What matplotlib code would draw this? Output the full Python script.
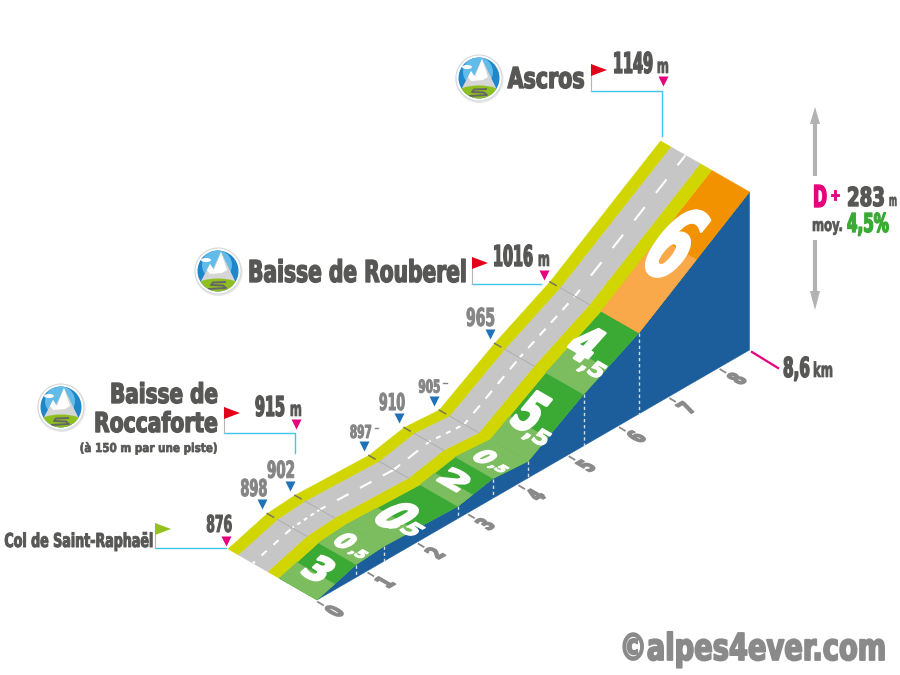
import numpy as np
import matplotlib
matplotlib.use('Agg')
import matplotlib.pyplot as plt
from matplotlib.patches import Circle, Ellipse, Polygon
from matplotlib.patheffects import AbstractPathEffect
from matplotlib.transforms import Affine2D

# Profile data
stations_km = [0, 0.78, 1.33, 2.8, 3.5, 4.2, 5.3, 6.4, 8.6]
altitudes_m = [876, 898, 902, 897, 910, 905, 965, 1016, 1149]
grade_big = ['3', '0', '0', '2', '0', '5', '4', '6']
grade_small = ['', ',5', ',5', '', ',5', ',5', ',5', '']
km_ticks = [0, 1, 2, 3, 4, 5, 6, 7, 8]
spot_km = [0.78, 1.33, 2.8, 3.5, 4.2, 5.3]
spot_alt = [898, 902, 897, 910, 905, 965]

# Styles
light_part = [0.45, 1.0, 0.42, 0.42, 1.0, 0.35, 0.42, 0.52]
dark_col = ['#3aaa35'] * 7 + ['#f39200']
light_col = ['#7cbd5f'] * 7 + ['#f9a94a']
dash_px = [(7, 9), (4, 4), (13, 13), (13, 10), (5, 6), (10, 9), (9, 8), (17, 18)]
# where the gradient numbers sit on the strip: km, depth, width, height
big_place = [(0.39, 0.22, 24, 27), (1.03, 0.28, 16, 19), (1.94, 0.24, 26, 38), (3.13, 0.24, 30, 21),
             (3.785, 0.27, 16, 19), (4.71, 0.29, 25, 42), (5.86, 0.32, 26, 38), (7.48, 0.266, 38, 78)]
small_place = [None, (0.98, 0.09, 15, 10), (1.9, 0.06, 26, 18), None,
               (3.76, 0.085, 15, 10), (4.53, 0.088, 25, 16), (5.66, 0.105, 25, 16), None]
spot_w = [27, 28, 22, 26, 22, 29]
spot_cap = [17, 17, 13, 17, 13, 18]
spot_dx = [-8.5, -9, -3, -7, -5, -9]

BLUE = '#1b5e9b'
YELLOW = '#d2d600'
ROAD = '#c6c6c6'
TEXT = '#575756'
SPOT = '#858585'
PINK = '#e6007e'
CYAN = '#3fc6ef'
GREEN = '#3aaa35'


# Path effect that warps a text about its anchor (used for the heavy tall lettering)
class Warp(AbstractPathEffect):
    def __init__(self, anchor, matrix, stroke, color):
        super().__init__()
        self.anchor = anchor
        self.matrix = matrix
        self.stroke = stroke
        self.color = color

    def draw_path(self, renderer, gc, tpath, affine, rgbFace=None):
        ax_, ay_ = self.anchor
        warp = Affine2D().translate(-ax_, -ay_) + Affine2D(self.matrix) + Affine2D().translate(ax_, ay_)
        new = affine + warp
        gc0 = renderer.new_gc()
        gc0.copy_properties(gc)
        gc0.set_linewidth(self.stroke)
        gc0.set_foreground(self.color)
        renderer.draw_path(gc0, tpath, new, rgbFace)
        gc0.restore()


# Function to project km / altitude / depth on the picture
def proj(km, alt, d=0.0):
    x = 317 + 50.3 * km - 89 * d
    y = 600 - 29.07 * km - 0.579 * (alt - 876) - 51 * d
    return x, y


def alt_at(km):
    return np.interp(km, stations_km, altitudes_m)


def band(ax, km0, km1, d0, d1, color, z=2):
    pts = [proj(km0, alt_at(km0), d0), proj(km1, alt_at(km1), d0),
           proj(km1, alt_at(km1), d1), proj(km0, alt_at(km0), d1)]
    ax.add_patch(Polygon(pts, closed=True, fc=color, ec=color, lw=0.3, zorder=z))


def fit_size(ax, t, width):
    w = t.get_window_extent(renderer=ax.figure.canvas.get_renderer()).width
    return t.get_fontsize() * width / w


# Upright text: x is the side given by ha, y the baseline, width and cap height in pixels
def label(ax, x, y, s, width, cap, color=TEXT, ha='left', stroke=1.0):
    t = ax.text(x, y, s, fontsize=20, color=color, ha=ha, va='baseline',
                family='DejaVu Sans', fontweight='bold', zorder=6)
    fs = fit_size(ax, t, width)
    t.set_fontsize(fs)
    sy = cap / (0.729 * fs * 100 / 72)
    anchor = ax.transData.transform((x, y))
    t.set_path_effects([Warp(anchor, [[1, 0, 0], [0, sy, 0], [0, 0, 1]], stroke, color)])
    return t


# Text laid on a plane: u is the baseline direction, v the upward one (y going up)
def plane_text(ax, x, y, s, width, height, u, v, color='white', stroke=0.8):
    t = ax.text(x, y, s, fontsize=20, color=color, ha='center', va='center',
                family='DejaVu Sans', fontweight='bold', zorder=6)
    fs = fit_size(ax, t, width)
    t.set_fontsize(fs)
    k = height / (0.729 * fs * 100 / 72)
    anchor = ax.transData.transform((x, y))
    m = [[u[0], v[0] * k, 0], [u[1], v[1] * k, 0], [0, 0, 1]]
    t.set_path_effects([Warp(anchor, m, stroke, color)])
    return t


def flag(ax, x, ybase, ytop, color):
    ax.plot([x, x], [ytop, ybase], color='#b5b5b5', lw=0.8, zorder=4)
    ax.add_patch(Polygon([(x, ytop), (x + 16, ytop + 6), (x, ytop + 12)], fc=color, ec='none', zorder=5))


def mountain_icon(ax, cx, cy):
    ax.add_patch(Circle((cx + 0.5, cy + 1), 24, fc='#e8e8e8', ec='none', zorder=3))
    ax.add_patch(Circle((cx, cy), 23, fc='white', ec='#d5d9dc', lw=0.8, zorder=3))
    sky = Circle((cx, cy), 20.5, fc='#1f86c9', ec='none', zorder=3)
    ax.add_patch(sky)
    top = Circle((cx - 1, cy - 6), 15, fc='#62bbe8', ec='none', zorder=3)
    ax.add_patch(top)
    top.set_clip_path(sky)
    m = Polygon([(cx - 19, cy + 14), (cx - 8, cy - 7), (cx - 5, cy - 2), (cx + 3, cy - 19),
                 (cx + 19, cy + 14)], fc='#d6d6d6', ec='none', zorder=3)
    ax.add_patch(m)
    m.set_clip_path(sky)
    snow = Polygon([(cx - 11, cy - 1), (cx - 8, cy - 7), (cx - 4, cy - 1), (cx + 3, cy - 19),
                    (cx + 9, cy - 1), (cx + 4, cy + 2), (cx - 8, cy + 3)], fc='white', ec='none', zorder=3)
    ax.add_patch(snow)
    snow.set_clip_path(sky)
    g = Ellipse((cx, cy + 15), 44, 15, fc='#8fbe1f', ec='none', zorder=3)
    ax.add_patch(g)
    g.set_clip_path(sky)
    r, = ax.plot([cx - 9, cx + 8, cx + 5, cx - 7, cx - 5, cx + 7],
                 [cy + 18, cy + 17, cy + 14.5, cy + 14, cy + 11.5, cy + 11],
                 color='#666666', lw=1.4, zorder=3, solid_joinstyle='round')
    r.set_clip_path(sky)
    ax.add_patch(Ellipse((cx - 12, cy - 11), 10, 4, fc='white', ec='none', zorder=3))


fig = plt.figure(figsize=(9, 6.75), dpi=100)
ax = fig.add_axes([0, 0, 1, 1])
ax.set_xlim(0, 900)
ax.set_ylim(675, 0)
ax.axis('off')

# Blue wall
wall = [proj(0, 876)] + [proj(k, a) for k, a in zip(stations_km, altitudes_m)] + [proj(stations_km[-1], 876)]
ax.add_patch(Polygon(wall, closed=True, fc=BLUE, ec=BLUE, lw=0.3, zorder=1))
for k, a in zip(stations_km[1:-1], altitudes_m[1:-1]):
    ax.plot(*zip(proj(k, a), proj(k, 876)), color='#d5dde8', lw=1, ls=(0, (2.4, 2)), zorder=2)

# Top surface, segment by segment
for i in range(len(stations_km) - 1):
    k0, k1 = stations_km[i], stations_km[i + 1]
    band(ax, k0, k1, 0, 0.425, dark_col[i])
    band(ax, k0, k0 + (k1 - k0) * light_part[i], 0, 0.425, light_col[i], z=2.1)
    band(ax, k0, k1, 0.425, 0.555, YELLOW)
    band(ax, k0, k1, 0.555, 0.885, ROAD)
    band(ax, k0, k1, 0.885, 1.0, YELLOW)
    c0 = proj(k0, alt_at(k0), 0.72)
    c1 = proj(k1, alt_at(k1), 0.72)
    on, off = dash_px[i]
    ax.plot([c0[0], c1[0]], [c0[1], c1[1]], color='white', lw=1.5, dash_capstyle='butt',
            ls=(off / 4.2, (on / 2.08, off / 2.08)), zorder=3)

# Station lines across the road
for k, a in zip(stations_km[1:-1], altitudes_m[1:-1]):
    ax.plot(*zip(proj(k, a, 0.555), proj(k, a, 0.885)), color='#aeaeae', lw=0.7, zorder=3)
    ax.plot(*zip(proj(k, a, 0.93), proj(k, a, 1.0)), color='#77775a', lw=1.1, zorder=3)

# Gradient numbers on the green and orange strip
across = (0.87, -0.5)
for i in range(len(grade_big)):
    p0 = proj(stations_km[i], altitudes_m[i])
    p1 = proj(stations_km[i + 1], altitudes_m[i + 1])
    along = np.array([p1[0] - p0[0], p0[1] - p1[1]])
    along = along / np.hypot(*along)
    km, d, w, h = big_place[i]
    x, y = proj(km, alt_at(km), d)
    plane_text(ax, x, y, grade_big[i], w, h, across, along, stroke=2.0 if h > 25 else 1.5)
    if small_place[i]:
        km, d, w, h = small_place[i]
        x, y = proj(km, alt_at(km), d)
        plane_text(ax, x, y, grade_small[i], w, h, across, along, stroke=0.9)

# Km ticks
for k in km_ticks:
    x, y = proj(k, 876)
    ax.plot([x + 1, x + 6], [y + 2, y + 5], color='#8a8a8a', lw=1.3, zorder=4)
    plane_text(ax, x + 19, y + 12, str(k), 10, 17, (0.87, 0.5), (-0.87, 0.5), color='#8a8a8a', stroke=1.2)

# Spot heights with blue markers
for i in range(len(spot_km)):
    x, y = proj(spot_km[i], spot_alt[i], 1.0)
    ax.plot(x - 5, y - 9.5, marker='v', ms=7, color='#1f71b8', mec='none', zorder=5)
    label(ax, x - 5 + spot_dx[i], y - 17.5, str(spot_alt[i]), spot_w[i], spot_cap[i], color=SPOT,
          ha='center', stroke=0.7)
# small marks beside two of the heights
ax.plot([375, 378], [428, 428], color=SPOT, lw=1, zorder=5)
ax.plot([443, 447], [383, 383], color=SPOT, lw=1, zorder=5)

# Pink markers of the named passes
ax.plot(226, 541, marker='v', ms=7.5, color=PINK, mec='none', zorder=5)
ax.plot(296, 424, marker='v', ms=7.5, color=PINK, mec='none', zorder=5)
ax.plot(544, 275, marker='v', ms=7.5, color=PINK, mec='none', zorder=5)
ax.plot(663, 81, marker='v', ms=7.5, color=PINK, mec='none', zorder=5)

# Leader lines and flags
ax.plot([591, 662, 662], [91, 91, 136], color=CYAN, lw=1, zorder=4)
ax.plot([472, 541], [284, 284], color=CYAN, lw=1, zorder=4)
ax.plot([224, 295, 295], [433, 433, 453], color=CYAN, lw=1, zorder=4)
ax.plot([155, 226], [548, 548], color=CYAN, lw=1, zorder=4)
flag(ax, 591, 91, 64, '#e3001b')
flag(ax, 472, 284, 257, '#e3001b')
flag(ax, 224, 433, 407, '#e3001b')
flag(ax, 155, 548, 523, '#95c11f')

mountain_icon(ax, 479, 78)
mountain_icon(ax, 218, 271)
mountain_icon(ax, 61, 407)

# Names
label(ax, 585, 88, 'Ascros', 77, 21, ha='right')
label(ax, 467, 282, 'Baisse de Rouberel', 219, 22, ha='right')
label(ax, 218, 403, 'Baisse de', 108, 20, ha='right')
label(ax, 218, 432, 'Roccaforte', 124, 20, ha='right')
label(ax, 218, 452, '(à 150 m par une piste)', 138, 9, ha='right', stroke=0.5)
label(ax, 152, 547, 'Col de Saint-Raphaël', 149, 14, ha='right', stroke=0.7)

# Altitudes
label(ax, 653, 73, '1149', 40, 21, ha='right')
label(ax, 669, 73, 'm', 12, 15, ha='right', stroke=0.5)
label(ax, 533, 266, '1016', 40, 21, ha='right')
label(ax, 550, 266, 'm', 12, 15, ha='right', stroke=0.5)
label(ax, 285, 416, '915', 30, 20, ha='right')
label(ax, 302, 416, 'm', 12, 15, ha='right', stroke=0.5)
label(ax, 232, 532, '876', 26, 17, ha='right', stroke=0.7)

# Right side summary
ax.plot([815, 815], [122, 176], color='#b2b2b2', lw=3, solid_capstyle='butt', zorder=3)
ax.plot([815, 815], [240, 293], color='#b2b2b2', lw=3, solid_capstyle='butt', zorder=3)
ax.add_patch(Polygon([(815, 107), (820, 124), (810, 124)], fc='#b2b2b2', ec='none', zorder=3))
ax.add_patch(Polygon([(815, 310), (820, 291), (810, 291)], fc='#b2b2b2', ec='none', zorder=3))
label(ax, 813, 207, 'D', 14, 22, color=PINK)
label(ax, 829, 200, '+', 12, 12, color=PINK, stroke=0.6)
label(ax, 847, 206, '283', 38, 19)
label(ax, 889, 206, 'm', 8, 12, stroke=0.4)
label(ax, 812, 231, 'moy.', 31, 13, stroke=0.5)
label(ax, 847, 232, '4,5%', 42, 19, color=GREEN)

ax.plot([752, 778], [352, 368], color=PINK, lw=1.6, zorder=4)
label(ax, 783, 377, '8,6', 27, 20)
label(ax, 813, 377, 'km', 20, 15, stroke=0.5)

# Watermark
label(ax, 885, 660, '©alpes4ever.com', 267, 27, color='#8a8a8a', ha='right', stroke=1.3)

fig.savefig('out.png', dpi=100)
